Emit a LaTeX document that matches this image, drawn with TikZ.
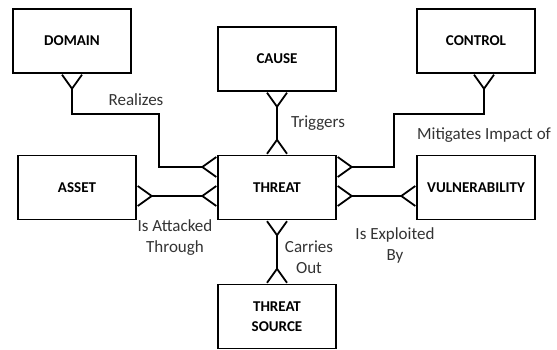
\documentclass[tikz,border=0pt]{standalone}
\usepackage{fontspec}
\setmainfont{Carlito}
\usetikzlibrary{arrows.meta,positioning,calc}
\tikzset{
  box/.style={draw,line width=1.6pt,minimum width=118pt,minimum height=64pt,align=center,font=\fontsize{15}{20}\selectfont\bfseries},
  crow/.tip={Straight Barb[reversed,length=14pt,width=20pt]},
  rel/.style={line width=1.8pt,{crow}-{crow}},
  lbl/.style={align=center,font=\fontsize{17}{21}\selectfont,text=black!80},
}
\begin{document}
\begin{tikzpicture}[x=1pt,y=-1pt]
  \useasboundingbox (0,0) rectangle (557,350);
  % entities
  \node[box] (domain) at (72,41) {DOMAIN};
  \node[box] (cause) at (277,59) {CAUSE};
  \node[box] (control) at (476,41) {CONTROL};
  \node[box] (asset) at (77,187.5) {ASSET};
  \node[box] (threat) at (277,187.5) {THREAT};
  \node[box] (vuln) at (476,187.5) {VULNERABILITY};
  \node[box] (src) at (277,316.5) {THREAT\\SOURCE};
  % bends
  \coordinate (r1) at (159,114);
  \coordinate (m1) at (394,114);
  % relations
  \draw[rel] ([yshift=20.5pt]threat.west) -| (r1) -| (domain.south);
  \draw[rel] (threat.north) -- (cause.south);
  \draw[rel] ([yshift=20.5pt]threat.east) -| (m1) -| ([xshift=8pt]control.south);
  \draw[rel] ([yshift=-8.5pt]threat.west) -- ([yshift=-8.5pt]asset.east);
  \draw[rel] ([yshift=-8.5pt]threat.east) -- ([yshift=-8.5pt]vuln.west);
  \draw[rel] (threat.south) -- (src.north);
  % labels
  \node[lbl] (l1) at (136,100) {Realizes};
  \node[lbl] (l2) at (318,123) {Triggers};
  \node[lbl] (l3) at (484,135) {Mitigates Impact of};
  \node[lbl] (l4) at (175,238) {Is Attacked\\Through};
  \node[lbl] (l5) at (395,245) {Is Exploited\\By};
  \node[lbl] (l6) at (309,257) {Carries\\Out};
\end{tikzpicture}
\end{document}
